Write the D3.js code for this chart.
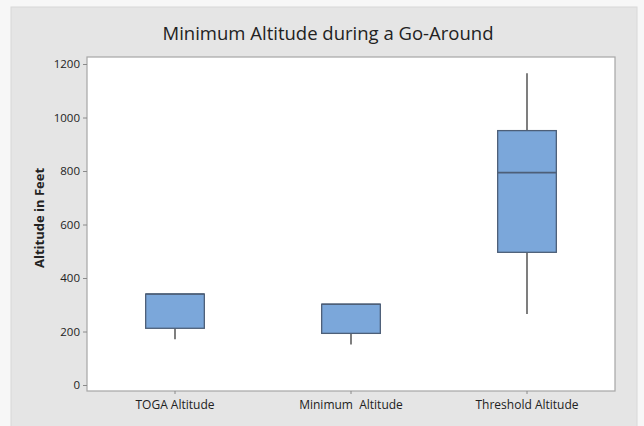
<!DOCTYPE html>
<html>
<head>
<meta charset="utf-8">
<script src="https://cdn.jsdelivr.net/npm/d3@7"></script>
<style>
  html, body { margin: 0; padding: 0; background: #f7f7f7; }
  svg { display: block; }
  text { font-family: "Open Sans", "Noto Sans", sans-serif; fill: #222; }
</style>
</head>
<body>
<svg id="chart" width="644" height="426"></svg>
<script>
// Box plot summary per group (feet)
const categories = ["TOGA Altitude", "Minimum  Altitude", "Threshold Altitude"];
const whiskerLow  = [171, 151, 265];
const q1          = [212, 193, 496];
const median      = [340, 302, 794];
const q3          = [340, 302, 951];
const whiskerHigh = [340, 302, 1165];
const yTicks = [0, 200, 400, 600, 800, 1000, 1200];

const svg = d3.select("#chart");
const frame = { left: 87, right: 615, top: 57, bottom: 391 };

// outer grey panel
svg.append("rect")
  .attr("x", 11).attr("y", 7).attr("width", 626).attr("height", 425)
  .attr("fill", "#e5e5e5").attr("stroke", "#d8d8d8");

// plot area
svg.append("rect")
  .attr("x", frame.left).attr("y", frame.top)
  .attr("width", frame.right - frame.left).attr("height", frame.bottom - frame.top)
  .attr("fill", "#ffffff").attr("stroke", "#a6a6a6").attr("stroke-width", 1.2);

const x = d3.scaleBand().domain(categories).range([frame.left, frame.right]).padding(0);
const y = d3.scaleLinear().domain([0, 1200]).range([385, 64]);
const boxW = x.bandwidth() / 3;

// y axis
const yAxis = svg.append("g")
  .attr("transform", `translate(${frame.left},0)`)
  .call(d3.axisLeft(y).tickValues(yTicks).tickSize(4).tickPadding(3).tickFormat(d3.format("d")));
yAxis.select(".domain").remove();
yAxis.selectAll(".tick line").attr("stroke", "#8a8a8a");
yAxis.selectAll(".tick text").style("font-size", "11.5px").attr("fill", "#2a2a2a");

// x axis
const xAxis = svg.append("g")
  .attr("transform", `translate(0,${frame.bottom})`)
  .call(d3.axisBottom(x).tickSize(3).tickPadding(6));
xAxis.select(".domain").remove();
xAxis.selectAll(".tick line").attr("stroke", "#8a8a8a");
xAxis.selectAll(".tick text").style("font-size", "12px").attr("fill", "#1a1a1a").style("white-space", "pre");

const rows = categories.map((c, i) => ({
  c, lo: whiskerLow[i], q1: q1[i], med: median[i], q3: q3[i], hi: whiskerHigh[i]
}));

const g = svg.append("g");
const cx = d => x(d.c) + x.bandwidth() / 2;

// whiskers
g.selectAll("line.wlo").data(rows).join("line")
  .attr("x1", cx).attr("x2", cx)
  .attr("y1", d => y(d.q1)).attr("y2", d => y(d.lo))
  .attr("stroke", "#3a3a3a").attr("stroke-width", 1.3);
g.selectAll("line.whi").data(rows).join("line")
  .attr("x1", cx).attr("x2", cx)
  .attr("y1", d => y(d.q3)).attr("y2", d => y(d.hi))
  .attr("stroke", "#3a3a3a").attr("stroke-width", 1.3);

// boxes
g.selectAll("rect.box").data(rows).join("rect")
  .attr("x", d => cx(d) - boxW / 2).attr("width", boxW)
  .attr("y", d => y(d.q3)).attr("height", d => y(d.q1) - y(d.q3))
  .attr("fill", "#7ba7da").attr("stroke", "#4d5f78").attr("stroke-width", 1.3);

// medians
g.selectAll("line.med").data(rows).join("line")
  .attr("x1", d => cx(d) - boxW / 2).attr("x2", d => cx(d) + boxW / 2)
  .attr("y1", d => y(d.med)).attr("y2", d => y(d.med))
  .attr("stroke", "#4d5f78").attr("stroke-width", 1.6);

// title
svg.append("text")
  .attr("x", 328).attr("y", 40).attr("text-anchor", "middle")
  .style("font-size", "18.5px").attr("fill", "#111")
  .text("Minimum Altitude during a Go-Around");

// y axis title
svg.append("text")
  .attr("transform", `translate(44,${(frame.top + frame.bottom) / 2 - 6}) rotate(-90)`)
  .attr("text-anchor", "middle")
  .style("font-size", "13px").style("font-weight", "bold").attr("fill", "#111")
  .text("Altitude in Feet");
</script>
</body>
</html>
